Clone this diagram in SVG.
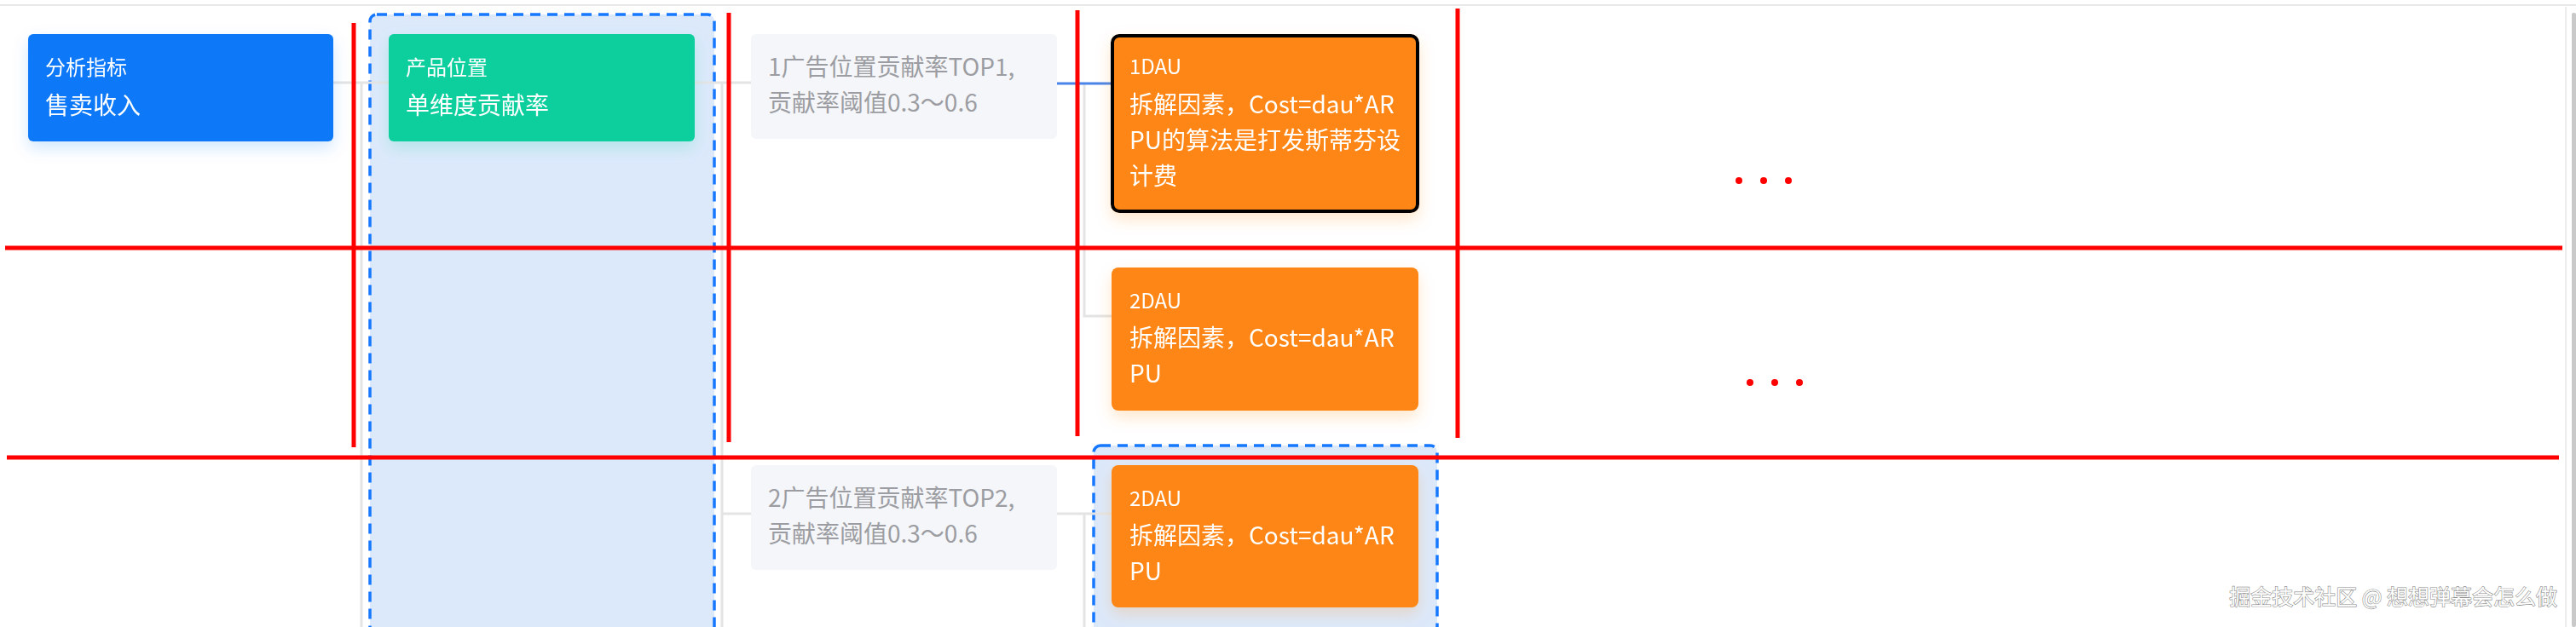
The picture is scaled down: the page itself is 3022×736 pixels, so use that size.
<svg xmlns="http://www.w3.org/2000/svg" width="3022" height="736" viewBox="0 0 3022 736">
  <style>
    text { font-family: "Noto Sans CJK SC", "Noto Sans", sans-serif; }
    .t { font-size: 24px; fill: #ffffff; }
    .b { font-size: 28px; fill: #ffffff; }
    .g { font-size: 28px; fill: #9c9da2; }
    .conn { fill: none; stroke: #e4e4e4; stroke-width: 3; }
    .hl { fill: none; stroke: #4a84e8; stroke-width: 3; }
    .sel { fill: #dce9fb; stroke: #1677ff; stroke-width: 3.5; stroke-dasharray: 12 8; }
    .red { stroke: #ff0000; stroke-width: 5; }
    .wm { font-size: 25px; fill: #ffffff; stroke: #8a8a8a; stroke-width: 1.2; paint-order: stroke; }
  </style>
  <defs>
    <filter id="shB" x="-20%" y="-30%" width="140%" height="170%">
      <feDropShadow dx="0" dy="8" stdDeviation="9" flood-color="#0b78f8" flood-opacity="0.18"/>
    </filter>
    <filter id="shG" x="-20%" y="-30%" width="140%" height="170%">
      <feDropShadow dx="0" dy="8" stdDeviation="9" flood-color="#0acf9e" flood-opacity="0.18"/>
    </filter>
    <filter id="shO" x="-20%" y="-30%" width="140%" height="170%">
      <feDropShadow dx="0" dy="8" stdDeviation="9" flood-color="#fe8613" flood-opacity="0.2"/>
    </filter>
  </defs>
  <rect x="0" y="0" width="3022" height="736" fill="#ffffff"/>
  <line x1="0" y1="6" x2="3022" y2="6" stroke="#e8e8e8" stroke-width="2"/>
  <line x1="3010" y1="8" x2="3010" y2="736" stroke="#ececec" stroke-width="2"/>
  <rect x="3017" y="15" width="5" height="721" rx="2" fill="#c9c9c9"/>

  <g id="selection-boxes">
    <rect class="sel" x="434" y="17" width="404" height="740" rx="8"/>
    <rect class="sel" x="1283" y="523" width="403" height="240" rx="8"/>
  </g>

  <g id="connectors">
    <path class="conn" d="M391 97 H456"/>
    <path class="conn" d="M424 97 V736"/>
    <path class="conn" d="M815 97 H881"/>
    <path class="conn" d="M847 97 V736 M847 603 H881"/>
    <path class="conn" d="M1272 98 V371 H1304"/>
    <path class="conn" d="M1240 603 H1304 M1272 603 V736"/>
    <path class="hl" d="M1240 98 H1305"/>
  </g>

  <g id="node-metric" filter="url(#shB)">
    <rect x="33" y="40" width="358" height="126" rx="6" fill="#0b78f8"/>
    <text class="t" x="53" y="88">分析指标</text>
    <text class="b" x="53" y="134">售卖收入</text>
  </g>

  <g id="node-position" filter="url(#shG)">
    <rect x="456" y="40" width="359" height="126" rx="6" fill="#0acf9e"/>
    <text class="t" x="476" y="88">产品位置</text>
    <text class="b" x="476" y="134">单维度贡献率</text>
  </g>

  <g id="node-top1">
    <rect x="881" y="40" width="359" height="123" rx="6" fill="#f5f6f9"/>
    <text class="g" x="901" y="89">1广告位置贡献率TOP1,</text>
    <text class="g" x="901" y="131">贡献率阈值0.3～0.6</text>
  </g>

  <g id="node-top2">
    <rect x="881" y="546" width="359" height="123" rx="6" fill="#f5f6f9"/>
    <text class="g" x="901" y="595">2广告位置贡献率TOP2,</text>
    <text class="g" x="901" y="637">贡献率阈值0.3～0.6</text>
  </g>

  <g id="node-1dau" filter="url(#shO)">
    <rect x="1305" y="42" width="358" height="206" rx="8" fill="#fe8613" stroke="#000000" stroke-width="4"/>
    <text class="t" x="1325" y="87">1DAU</text>
    <text class="b" x="1325" y="133">拆解因素，Cost=dau*AR</text>
    <text class="b" x="1325" y="175">PU的算法是打发斯蒂芬设</text>
    <text class="b" x="1325" y="217">计费</text>
  </g>

  <g id="node-2dau-a" filter="url(#shO)">
    <rect x="1304" y="314" width="360" height="168" rx="8" fill="#fe8613"/>
    <text class="t" x="1325" y="362">2DAU</text>
    <text class="b" x="1325" y="407">拆解因素，Cost=dau*AR</text>
    <text class="b" x="1325" y="449">PU</text>
  </g>

  <g id="node-2dau-b" filter="url(#shO)">
    <rect x="1304" y="546" width="360" height="167" rx="8" fill="#fe8613"/>
    <text class="t" x="1325" y="594">2DAU</text>
    <text class="b" x="1325" y="639">拆解因素，Cost=dau*AR</text>
    <text class="b" x="1325" y="681">PU</text>
  </g>

  <g id="red-annotations">
    <line class="red" x1="415" y1="27" x2="415" y2="525"/>
    <line class="red" x1="855" y1="15" x2="855" y2="519"/>
    <line class="red" x1="1264" y1="12" x2="1264" y2="512" stroke-width="7"/>
    <line class="red" x1="1710" y1="10" x2="1710" y2="514"/>
    <line class="red" x1="6" y1="291" x2="3006" y2="291"/>
    <line class="red" x1="8" y1="537" x2="3002" y2="537"/>
    <circle cx="2040" cy="212" r="4" fill="#ff0000"/>
    <circle cx="2069" cy="212" r="4" fill="#ff0000"/>
    <circle cx="2098" cy="212" r="4" fill="#ff0000"/>
    <circle cx="2053" cy="449" r="4" fill="#ff0000"/>
    <circle cx="2082" cy="449" r="4" fill="#ff0000"/>
    <circle cx="2111" cy="449" r="4" fill="#ff0000"/>
  </g>

  <text class="wm" x="3000" y="710" text-anchor="end">掘金技术社区 @ 想想弹幕会怎么做</text>
</svg>
